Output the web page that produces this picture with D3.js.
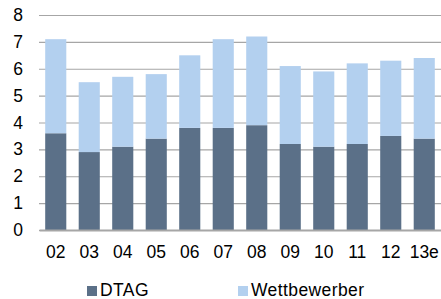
<!DOCTYPE html>
<html lang="de">
<head>
<meta charset="utf-8">
<script src="https://d3js.org/d3.v7.min.js"></script>
<style>
  body { margin: 0; background: #fff; }
  svg text { font-family: "Liberation Sans", Arial, sans-serif; fill: #000; }
</style>
</head>
<body>
<svg width="441" height="299"></svg>
<script>
  var years = ["02", "03", "04", "05", "06", "07", "08", "09", "10", "11", "12", "13e"];
  var dtag = [3.6, 2.9, 3.1, 3.4, 3.8, 3.8, 3.9, 3.2, 3.1, 3.2, 3.5, 3.4];
  var wettbewerber = [3.5, 2.6, 2.6, 2.4, 2.7, 3.3, 3.3, 2.9, 2.8, 3.0, 2.8, 3.0];
  var yTicks = [0, 1, 2, 3, 4, 5, 6, 7, 8];
  var seriesNames = ["DTAG", "Wettbewerber"];
  var colors = ["#5b7088", "#b3d0ef"];

  var svg = d3.select("svg");
  var margin = { top: 15, left: 39, right: 0, bottom: 69 };
  var width = 441 - margin.left - margin.right;
  var height = 299 - margin.top - margin.bottom;
  var fontSize = "17.5px";

  var rows = years.map(function (y, i) {
    return { year: y, DTAG: dtag[i], Wettbewerber: wettbewerber[i] };
  });
  var stacked = d3.stack().keys(seriesNames)(rows);

  var x = d3.scaleBand().domain(years).range([0, width]).paddingInner(0.37).paddingOuter(0.185);
  var y = d3.scaleLinear().domain([0, 8]).range([height, 0]);

  var g = svg.append("g").attr("transform", "translate(" + margin.left + "," + margin.top + ")");

  // gridlines
  g.append("g")
    .call(d3.axisLeft(y).tickValues(yTicks).tickSize(-width).tickFormat(""))
    .call(function (s) {
      s.select(".domain").remove();
      s.selectAll("line").attr("stroke", "#a6a6a6").attr("stroke-width", 1.2);
    });

  g.selectAll(".serie")
    .data(stacked)
    .enter()
    .append("g")
    .attr("fill", function (d, i) { return colors[i]; })
    .selectAll("rect")
    .data(function (d) { return d; })
    .enter()
    .append("rect")
    .attr("x", function (d) { return x(d.data.year); })
    .attr("y", function (d) { return y(d[1]); })
    .attr("height", function (d) { return y(d[0]) - y(d[1]); })
    .attr("width", x.bandwidth());

  // y labels
  g.append("g")
    .call(d3.axisLeft(y).tickValues(yTicks).tickSize(0).tickPadding(16))
    .call(function (s) {
      s.select(".domain").remove();
      s.selectAll("text").style("font-size", fontSize).attr("fill", "#000");
    });

  // x axis
  g.append("g")
    .attr("transform", "translate(0," + height + ")")
    .call(d3.axisBottom(x).tickSize(0).tickPadding(16).tickSizeOuter(0))
    .call(function (s) {
      s.select(".domain").attr("stroke", "#a6a6a6").attr("stroke-width", 2);
      s.selectAll("text").style("font-size", fontSize).attr("fill", "#000");
    });

  // legend
  var legendX = [87, 238];
  var legend = svg.selectAll(".legend")
    .data(seriesNames)
    .enter()
    .append("g")
    .attr("transform", function (d, i) { return "translate(" + legendX[i] + ",286)"; });
  legend.append("rect")
    .attr("width", 10).attr("height", 10)
    .attr("fill", function (d, i) { return colors[i]; });
  legend.append("text")
    .attr("x", 13).attr("y", 9.5)
    .style("font-size", fontSize)
    .style("letter-spacing", "0.4px")
    .text(function (d) { return d; });
</script>
</body>
</html>
